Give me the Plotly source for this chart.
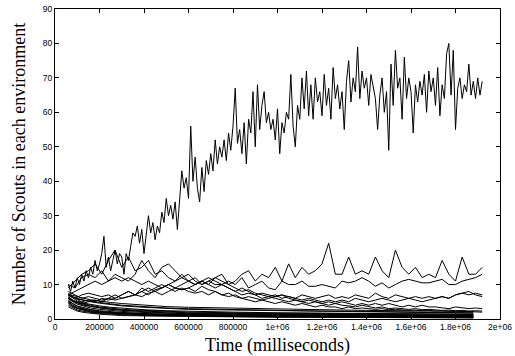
import plotly.graph_objects as go

# ---- data ----
# high-variance environment, sampled every 10000 ms from 60000 to 1920000
big_t = list(range(60000, 1920001, 10000))
big_v = [
    10, 8, 11, 9, 12, 10, 13, 11, 14, 12,
    15, 13, 17, 14, 16, 19, 24, 15, 18, 14,
    17, 20, 16, 19, 18, 13, 19, 17, 21, 25,
    24, 27, 22, 26, 19, 24, 30, 25, 28, 23,
    27, 25, 31, 28, 35, 30, 33, 29, 34, 26,
    36, 43, 38, 41, 35, 56, 40, 47, 38, 34,
    44, 37, 46, 42, 48, 43, 52, 45, 50, 47,
    52, 46, 54, 49, 56, 67, 51, 55, 48, 57,
    45, 58, 54, 66, 50, 68, 55, 62, 66, 57,
    60, 55, 58, 52, 61, 48, 57, 54, 60, 58,
    71, 56, 50, 62, 58, 70, 61, 72, 59, 68,
    58, 70, 63, 66, 59, 71, 62, 67, 58, 73,
    64, 68, 61, 66, 55, 69, 75, 63, 70, 66,
    79, 64, 72, 67, 70, 62, 71, 68, 64, 55,
    65, 70, 60, 66, 49, 74, 62, 78, 67, 70,
    58, 76, 64, 70, 66, 54, 68, 63, 69, 65,
    71, 60, 72, 66, 70, 62, 73, 59, 68, 64,
    77, 80, 65, 78, 55, 67, 70, 64, 68, 66,
    74, 65, 69, 64, 70, 65, 69,
]

# moderate environments, sampled every 30000 ms
mid_t = list(range(60000, 1920001, 30000))
line_a = [9, 11, 13, 14, 16, 13, 17, 20, 15, 18,
          14, 15, 17, 13, 14, 12, 11, 13, 11, 12,
          10, 11, 12, 13, 10, 11, 13, 14, 11, 13,
          12, 15, 11, 16, 12, 15, 13, 14, 16, 22,
          13, 13, 18, 13, 14, 13, 18, 14, 12, 20,
          15, 13, 15, 12, 13, 12, 17, 13, 11, 18,
          13, 13, 15]
line_b = [10, 9, 12, 13, 12, 14, 11, 13, 12, 11,
          13, 17, 14, 12, 15, 16, 14, 12, 13, 11,
          10, 11, 10, 10, 11, 10, 12, 9, 10, 11,
          9, 8.5, 11, 10, 10, 11, 9.5, 9.5, 10, 9.5,
          9, 11, 10.5, 11, 12, 11, 9.5, 10.5, 9, 10,
          11, 11.5, 11, 10.5, 10.5, 11, 11.5, 10, 10, 11,
          11.5, 12, 13]
line_c = [7, 6, 7, 7.5, 7, 6.5, 7, 6, 7, 8,
          7, 8, 9, 8, 9, 10, 9, 10, 11, 10,
          11, 10, 9, 10, 9, 8, 9, 8, 7, 7.5,
          7, 6.5, 7, 6.5, 6, 7, 6.5, 6, 6.5, 7,
          6, 6.5, 6, 7, 6.5, 6, 7.5, 6.5, 6, 7,
          6.5, 6, 6.5, 6, 6.5, 6, 6.5, 6, 7, 7.5,
          7, 7.5, 7]
line_d = [8, 7, 6, 6.5, 6, 5.5, 6, 7, 6, 6.5,
          7, 8, 7, 8.5, 9, 10, 9, 8.5, 9, 10,
          11, 10, 12, 11, 10, 9, 8, 8.5, 7.5, 7,
          6.5, 7, 6, 6.5, 6, 5.5, 6, 5.5, 5, 5.5,
          5, 5.5, 5, 6, 5.5, 5, 5.5, 6, 5.5, 5,
          5.5, 6, 5.5, 5, 5.5, 6, 6.5, 6, 7, 7.5,
          8, 7, 6.5]
line_e = [7, 6, 5, 5.5, 5, 6, 5.5, 6, 7, 8,
          7, 9, 8, 9, 10, 9, 8, 9, 8, 7.5,
          8, 7, 8, 7, 6.5, 7, 6, 6.5, 6, 5.5,
          6, 6.5, 7, 6, 5.5, 5, 5.5, 5, 4.5, 5,
          4.5, 5, 4.5, 4, 4.5, 4, 4.5, 4, 4.5, 4,
          3.5, 4, 3.5, 4, 3.5, 3.5, 3.2, 3, 3.5, 3.2,
          3, 3.2, 3]
line_f = [6, 5, 4.5, 5, 5.5, 5, 6, 5.5, 6, 6.5,
          7, 6.5, 7.5, 8, 7, 8, 9, 8.5, 9, 8,
          9.5, 8.5, 8, 7, 7.5, 6.5, 6, 5.5, 5, 5.5,
          5, 4.5, 5, 4.5, 4, 4.5, 4, 3.5, 4, 3.5,
          3.5, 3, 3.5, 3, 3.2, 3, 2.8, 3, 2.7, 2.8,
          2.6, 2.5, 2.6, 2.4, 2.5, 2.3, 2.4, 2.2, 2.3, 2.2,
          2.1, 2.2, 2.0]
line_g = [7, 8, 9, 10, 11, 10, 11, 12, 11, 12,
          11, 10, 11, 10, 9, 10, 11, 12, 11, 10,
          11, 12, 11, 10, 9, 8, 7, 7.5, 7, 6,
          6.5, 6, 5.5, 5, 5.5, 5, 4.5, 5, 4.5, 4,
          4.5, 4, 3.8, 3.5, 4, 3.5, 3.2, 3.5, 3, 3.2,
          3, 2.8, 3, 2.7, 2.8, 2.6, 2.5, 2.6, 2.4, 2.5,
          2.3, 2.4, 2.3]

# low, decaying environments
low_t = [60000, 80000, 100000, 130000, 160000, 200000, 250000, 300000, 400000,
         500000, 600000, 800000, 1000000, 1200000, 1400000, 1600000, 1800000, 1880000]
low_lines = [
    [7.5, 6.5, 6.0, 5.5, 5.0, 4.6, 4.2, 3.8, 3.4, 3.0, 2.8, 2.6, 2.4, 2.2, 2.0, 1.9, 1.8, 1.7],
    [7.0, 6.0, 5.2, 4.6, 4.2, 3.8, 3.4, 3.1, 2.7, 2.4, 2.2, 2.0, 1.8, 1.7, 1.6, 1.5, 1.4, 1.4],
    [6.5, 5.5, 4.8, 4.2, 3.7, 3.3, 2.9, 2.6, 2.3, 2.0, 1.8, 1.6, 1.5, 1.4, 1.3, 1.2, 1.2, 1.1],
    [6.0, 5.0, 4.3, 3.7, 3.2, 2.8, 2.5, 2.2, 1.9, 1.7, 1.5, 1.4, 1.3, 1.2, 1.1, 1.0, 1.0, 0.9],
    [5.5, 4.5, 3.8, 3.2, 2.8, 2.4, 2.1, 1.9, 1.6, 1.4, 1.3, 1.2, 1.1, 1.0, 0.9, 0.9, 0.8, 0.8],
    [5.0, 4.0, 3.3, 2.8, 2.4, 2.1, 1.8, 1.6, 1.4, 1.2, 1.1, 1.0, 0.9, 0.8, 0.8, 0.7, 0.7, 0.6],
    [4.5, 3.6, 3.0, 2.5, 2.1, 1.8, 1.6, 1.4, 1.2, 1.0, 0.9, 0.8, 0.7, 0.7, 0.6, 0.6, 0.5, 0.5],
    [4.0, 3.2, 2.6, 2.2, 1.9, 1.6, 1.4, 1.2, 1.0, 0.9, 0.8, 0.7, 0.6, 0.5, 0.5, 0.5, 0.4, 0.4],
    [6.8, 6.2, 5.8, 5.4, 5.2, 4.8, 4.4, 4.0, 3.5, 3.2, 3.0, 2.7, 2.5, 2.3, 2.2, 2.0, 1.9, 1.8],
    [7.2, 6.8, 6.5, 6.0, 5.6, 5.2, 4.8, 4.5, 4.0, 3.6, 3.4, 3.1, 2.9, 2.7, 2.5, 2.4, 2.3, 2.2],
    [5.8, 5.2, 4.6, 4.0, 3.6, 3.2, 2.8, 2.5, 2.1, 1.8, 1.6, 1.5, 1.4, 1.3, 1.2, 1.1, 1.0, 1.0],
    [3.5, 2.8, 2.3, 1.9, 1.6, 1.4, 1.2, 1.0, 0.9, 0.8, 0.7, 0.6, 0.5, 0.5, 0.4, 0.4, 0.4, 0.3],
    [6.2, 5.4, 4.9, 4.4, 4.0, 3.5, 3.1, 2.8, 2.5, 2.2, 2.0, 1.8, 1.7, 1.6, 1.5, 1.4, 1.3, 1.3],
    [5.2, 4.3, 3.6, 3.0, 2.6, 2.2, 1.9, 1.7, 1.5, 1.3, 1.2, 1.1, 1.0, 0.9, 0.9, 0.8, 0.8, 0.7],
    [4.8, 3.8, 3.1, 2.6, 2.2, 1.9, 1.7, 1.5, 1.3, 1.1, 1.0, 0.9, 0.8, 0.8, 0.7, 0.7, 0.6, 0.6],
]

x_tickvals = [0, 200000, 400000, 600000, 800000, 1000000, 1200000, 1400000, 1600000, 1800000, 2000000]
x_ticktext = ["0", "200000", "400000", "600000", "800000", "1e+06", "1.2e+06",
              "1.4e+06", "1.6e+06", "1.8e+06", "2e+06"]
y_tickvals = [0, 10, 20, 30, 40, 50, 60, 70, 80, 90]

assert len(big_v) == len(big_t)
for s in (line_a, line_b, line_c, line_d, line_e, line_f, line_g):
    assert len(s) == len(mid_t)
for s in low_lines:
    assert len(s) == len(low_t)

# ---- figure ----
fig = go.Figure()
line_style = dict(color="black", width=1)

for s in low_lines:
    fig.add_trace(go.Scatter(x=low_t, y=s, mode="lines", line=line_style, showlegend=False))
for s in (line_c, line_d, line_e, line_f, line_g, line_b, line_a):
    fig.add_trace(go.Scatter(x=mid_t, y=s, mode="lines", line=line_style, showlegend=False))
fig.add_trace(go.Scatter(x=big_t, y=big_v, mode="lines", line=line_style, showlegend=False))

tick_font = dict(family="Liberation Sans, Arial, sans-serif", size=8.5, color="black")
title_font = dict(family="Liberation Serif, Times New Roman, serif", size=18, color="black")

fig.update_layout(
    width=515, height=356,
    margin=dict(l=55, r=15, t=9, b=37),
    paper_bgcolor="white", plot_bgcolor="white",
    showlegend=False,
)
fig.update_xaxes(
    range=[0, 2000000], tickvals=x_tickvals, ticktext=x_ticktext,
    ticks="inside", ticklen=4, tickcolor="black", tickwidth=1,
    showline=True, linecolor="black", linewidth=1, mirror="allticks",
    showgrid=False, zeroline=False, tickfont=tick_font,
    title=dict(text="Time (milliseconds)", font=title_font, standoff=8),
    automargin=False,
)
fig.update_yaxes(
    range=[0, 90], tickvals=y_tickvals,
    ticks="inside", ticklen=4, tickcolor="black", tickwidth=1,
    showline=True, linecolor="black", linewidth=1, mirror="allticks",
    showgrid=False, zeroline=False, tickfont=tick_font,
    title=dict(text="Number of Scouts in each environment", font=title_font, standoff=12),
    automargin=False,
)

fig.write_html("out.html")
